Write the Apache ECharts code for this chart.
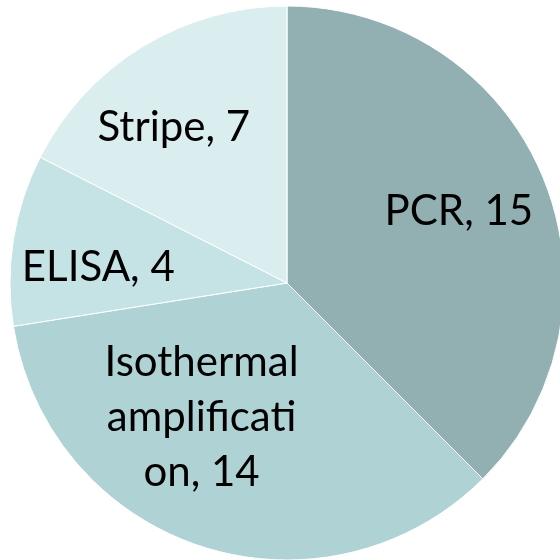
<!DOCTYPE html>
<html>
<head>
<meta charset="utf-8">
<script src="https://cdn.jsdelivr.net/npm/echarts@6/dist/echarts.min.js"></script>
<style>html,body{margin:0;padding:0;background:#fff}#c{width:560px;height:560px}</style>
</head>
<body>
<div id="c"></div>
<script>
var categories = ['PCR', 'Isothermal amplification', 'ELISA', 'Stripe'];
var labelNames = ['PCR', 'Isothermal\namplificati\non', 'ELISA', 'Stripe'];
var values = [15, 14, 4, 7];
var colors = ['#92B0B2', '#AFD2D4', '#C5E3E5', '#DAEDEF'];
var labelOffsets = [[0, 0], [-28, -42], [-5, 14], [-16, 3]];

var chart = echarts.init(document.getElementById('c'), null, {renderer: 'canvas'});
var slices = categories.map(function (c, i) {
  return {name: c, value: values[i], itemStyle: {color: colors[i]}};
});
var labelSlices = categories.map(function (c, i) {
  return {name: c, value: values[i], label: {offset: labelOffsets[i]}};
});
chart.setOption({
  animation: false,
  series: [
    {
      type: 'pie',
      center: [287, 283],
      radius: [0, 277],
      startAngle: 90,
      clockwise: true,
      silent: true,
      itemStyle: {borderColor: '#ffffff', borderWidth: 1},
      label: {show: false},
      labelLine: {show: false},
      data: slices
    },
    {
      type: 'pie',
      center: [287, 283],
      radius: [89, 277],
      startAngle: 90,
      clockwise: true,
      silent: true,
      itemStyle: {color: 'rgba(0,0,0,0)'},
      labelLine: {show: false},
      label: {
        show: true,
        position: 'inside',
        color: '#000000',
        fontFamily: 'Lato',
        fontSize: 42,
        lineHeight: 55,
        align: 'center',
        formatter: function (p) {
          return labelNames[p.dataIndex] + ', ' + p.value;
        }
      },
      data: labelSlices
    }
  ]
});
</script>
</body>
</html>
